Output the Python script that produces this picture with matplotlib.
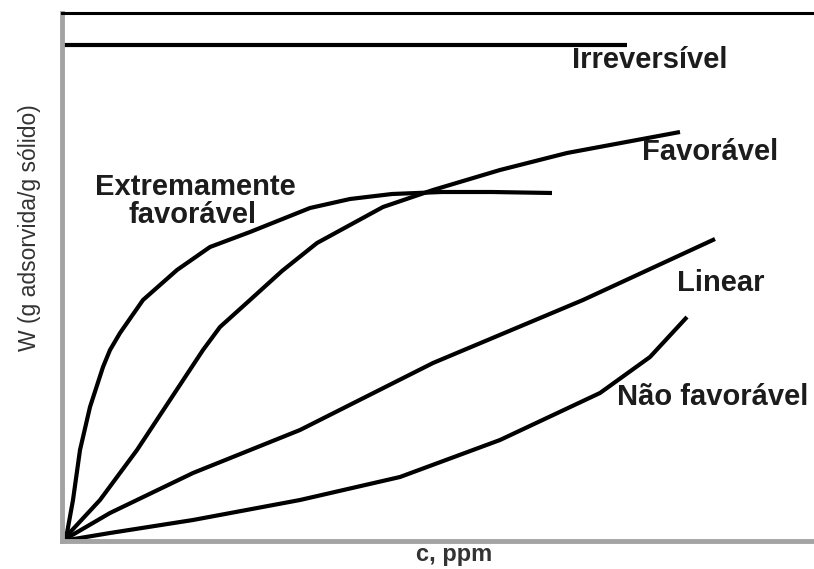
import matplotlib
matplotlib.use('Agg')
import matplotlib.pyplot as plt

# isotherm shapes (arbitrary units: c along x, W along y)
irrev_x = [0, 0, 565]
irrev_y = [0, 496, 496]

extrem_x = [0, 5, 11, 18, 28, 41, 48, 58, 81, 115, 148, 188, 248, 288, 330, 380, 430, 490]
extrem_y = [0, 8, 41, 91, 134, 174, 191, 208, 241, 271, 294, 309, 333, 342, 347, 349, 349, 348]

fav_x = [0, 38, 75, 108, 141, 158, 188, 220, 255, 321, 371, 438, 505, 618]
fav_y = [0, 41, 91, 141, 191, 214, 241, 270, 298, 334, 351, 371, 388, 409]

lin_x = [0, 48, 131, 238, 371, 521, 653]
lin_y = [0, 28, 68, 111, 178, 241, 302]

naofav_x = [0, 48, 131, 238, 338, 438, 538, 588, 625]
naofav_y = [0, 8, 21, 41, 64, 101, 148, 184, 224]

plt.rcParams['font.family'] = ['Liberation Sans', 'DejaVu Sans']

fig = plt.figure(figsize=(8.14, 5.69), dpi=100)
ax = fig.add_axes([62/814, 1-541/569, 1-62/814, (541-13)/569])

lw = 3.0
for xs, ys in [(irrev_x, irrev_y), (extrem_x, extrem_y), (fav_x, fav_y),
               (lin_x, lin_y), (naofav_x, naofav_y)]:
    ax.plot(xs, ys, color='black', lw=lw, solid_capstyle='butt', solid_joinstyle='round')

ax.set_xlim(0, 752)
ax.set_ylim(0, 528)
ax.set_xticks([])
ax.set_yticks([])

ax.spines['right'].set_visible(False)
ax.spines['top'].set_color('black')
ax.spines['top'].set_linewidth(2.2)
for s in ['left', 'bottom']:
    ax.spines[s].set_color('#a3a3a3')
    ax.spines[s].set_linewidth(3.5)

tc = '#1c1c1c'
fs = 21
ax.text(510, 481, 'Irreversível', fontsize=fs, fontweight='bold', color=tc, ha='left', va='center')
ax.text(580, 389, 'Favorável', fontsize=fs, fontweight='bold', color=tc, ha='left', va='center')
ax.text(133, 354, 'Extremamente', fontsize=fs, fontweight='bold', color=tc, ha='center', va='center')
ax.text(131, 326, 'favorável', fontsize=fs, fontweight='bold', color=tc, ha='center', va='center')
ax.text(615, 258, 'Linear', fontsize=fs, fontweight='bold', color=tc, ha='left', va='center')
ax.text(555, 144, 'Não favorável', fontsize=fs, fontweight='bold', color=tc, ha='left', va='center',
        clip_on=False)

fig.text(454/814, 1-555/569, 'c, ppm', fontsize=17, fontweight='bold', color='#333333',
         ha='center', va='center')
fig.text(30/814, 1-228/569, 'W (g adsorvida/g sólido)', fontsize=16.5, color='#333333',
         rotation=90, ha='center', va='center')

fig.savefig('out.png', dpi=100)
